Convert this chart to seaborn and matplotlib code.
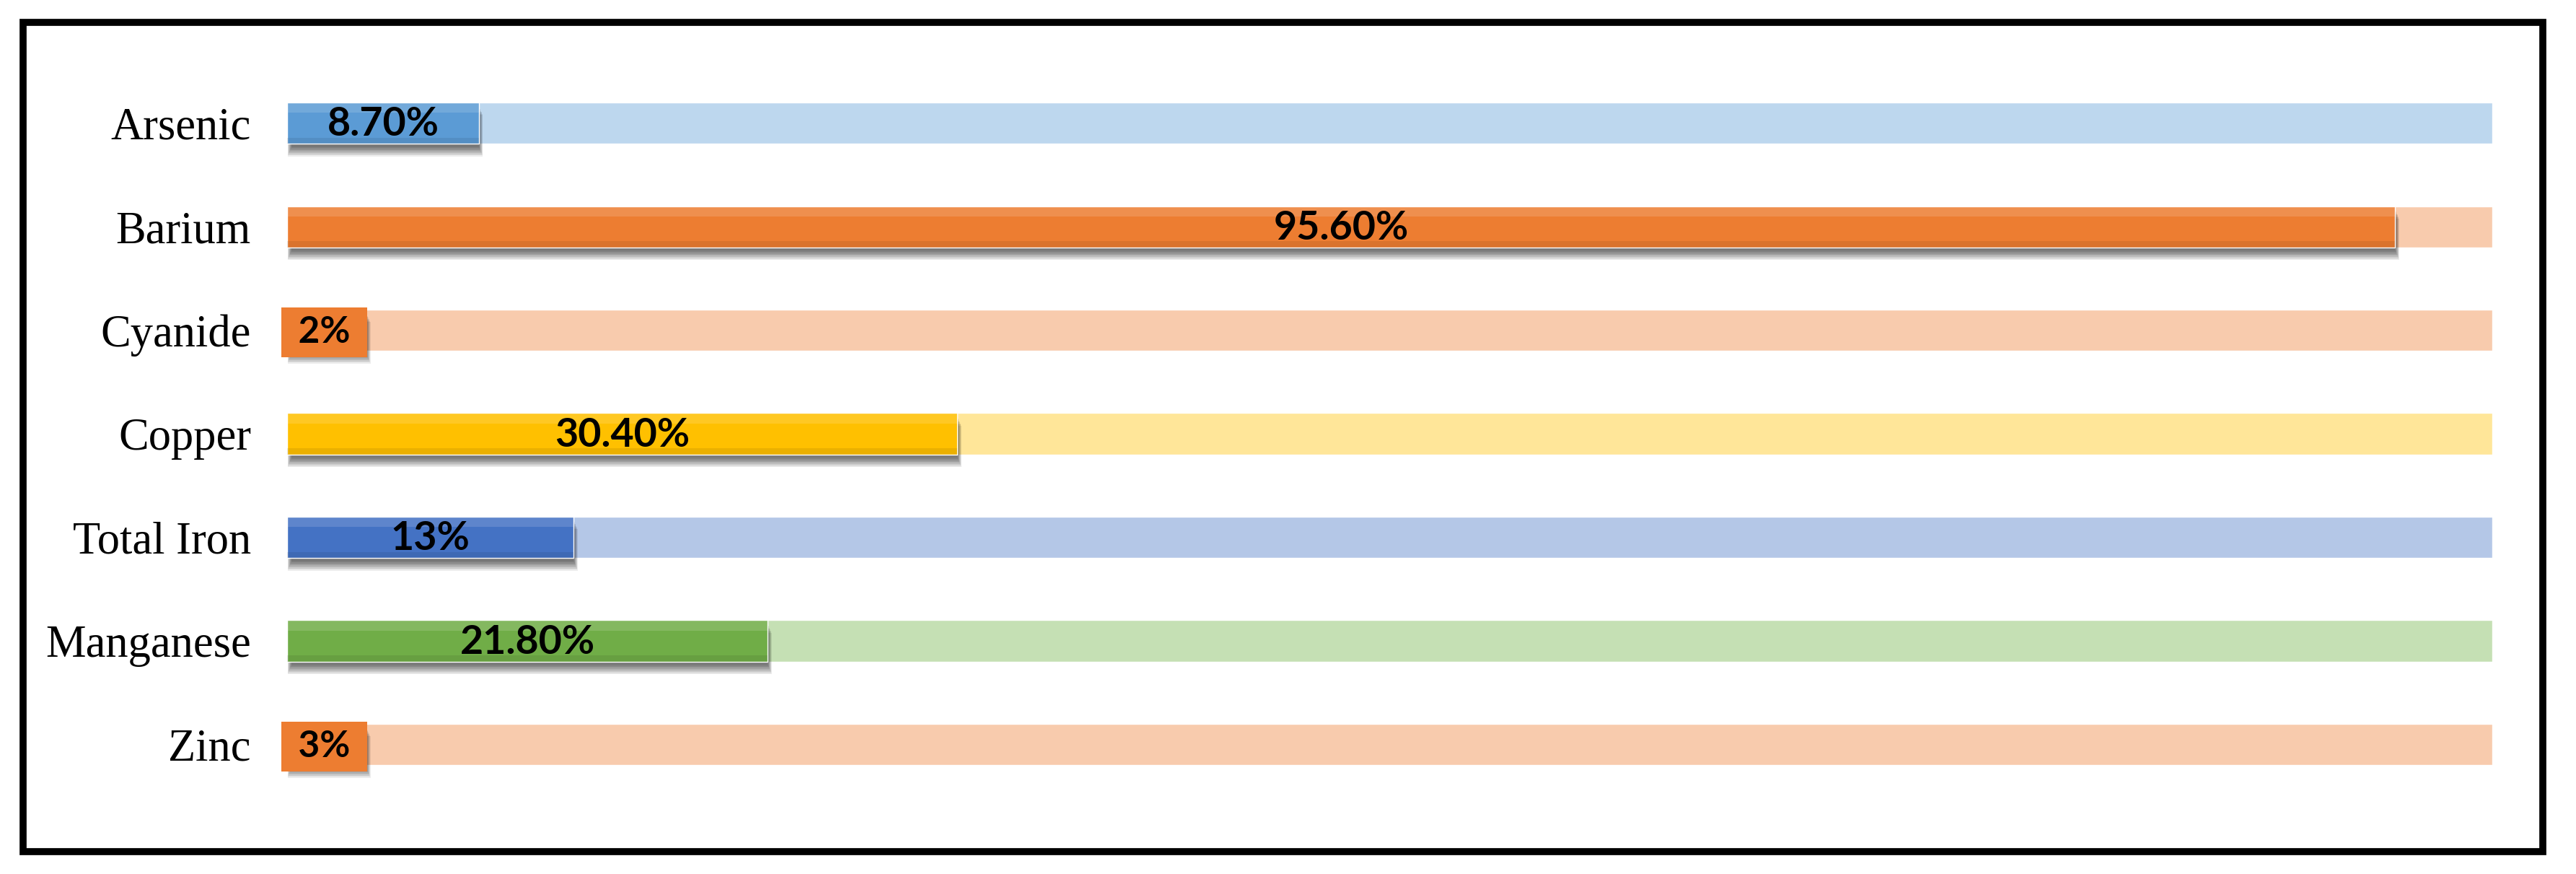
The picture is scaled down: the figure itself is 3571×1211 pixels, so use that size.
import numpy as np
import pandas as pd
import seaborn as sns
import matplotlib.pyplot as plt
from matplotlib.patches import Rectangle

# Data
elements = ['Arsenic', 'Barium', 'Cyanide', 'Copper', 'Total Iron', 'Manganese', 'Zinc']
percent = [8.7, 95.6, 2, 30.4, 13, 21.8, 3]
labels = ['8.70%', '95.60%', '2%', '30.40%', '13%', '21.80%', '3%']
full = [100] * len(elements)

bar_colors = ['#5B9BD5', '#ED7D31', '#ED7D31', '#FFC000', '#4472C4', '#70AD47', '#ED7D31']
track_colors = ['#BDD7EE', '#F8CBAD', '#F8CBAD', '#FFE699', '#B4C7E7', '#C5E0B4', '#F8CBAD']

df = pd.DataFrame({'element': elements, 'percent': percent, 'full': full})

sns.set_style('white')
plt.rcParams['font.family'] = ['Liberation Serif', 'DejaVu Sans']

W, H = 3571, 1211
fig = plt.figure(figsize=(W / 100, H / 100), dpi=100)
ax = fig.add_axes([398 / W, 0, (3455 - 398) / W, 1])

# light background tracks (100%)
sns.barplot(data=df, x='full', y='element', hue='element', legend=False,
            palette=dict(zip(elements, track_colors)), saturation=1,
            width=0.4, ax=ax, zorder=1)

# soft drop shadow under the value bars (and label boxes)
ypos = np.arange(len(elements))
shadow_len = np.maximum(percent, 3.6)
for k in range(10):
    ax.barh(ypos + 0.03 + k * 0.01, shadow_len - 0.2 + k * 0.04,
            left=0.2 - k * 0.02, height=0.4, color='black', alpha=0.07,
            lw=0, zorder=2)

# value bars
sns.barplot(data=df, x='percent', y='element', hue='element', legend=False,
            palette=dict(zip(elements, bar_colors)), saturation=1,
            width=0.4, ax=ax, zorder=3)

# simple vertical shading: lighter top, darker bottom
ax.barh(ypos - 0.15, percent, height=0.1, color='white', alpha=0.14, lw=0, zorder=4)
ax.barh(ypos + 0.17, percent, height=0.06, color='black', alpha=0.08, lw=0, zorder=4)

# value labels
for i, (v, lab) in enumerate(zip(percent, labels)):
    if v < 5:
        ax.text(0.1, i + 0.02, ' ' + lab + ' ', ha='left', va='center',
                fontsize=37, fontweight='bold', color='black',
                family=['Lato', 'DejaVu Sans'], zorder=6,
                bbox=dict(boxstyle='square,pad=0.22', fc=bar_colors[i], ec='none'))
    else:
        ax.text(v / 2, i + 0.01, lab, ha='center', va='center', fontsize=40,
                fontweight='bold', color='black', family=['Lato', 'DejaVu Sans'],
                zorder=6)

ax.set_xlim(0, 100)
ax.set_ylim(7.25, -1.19)
ax.set_xticks([])
ax.set_xlabel('')
ax.set_ylabel('')
ax.tick_params(axis='y', length=0, pad=36, labelsize=45, labelcolor='black')
sns.despine(ax=ax, left=True, bottom=True)
ax.patch.set_alpha(0)

# outer frame
fig.patches.append(Rectangle((32 / W, 31 / H), (3525 - 32) / W, (1180 - 31) / H,
                             transform=fig.transFigure, fill=False,
                             ec='black', lw=7, zorder=10))

fig.savefig('out.png', dpi=100)
